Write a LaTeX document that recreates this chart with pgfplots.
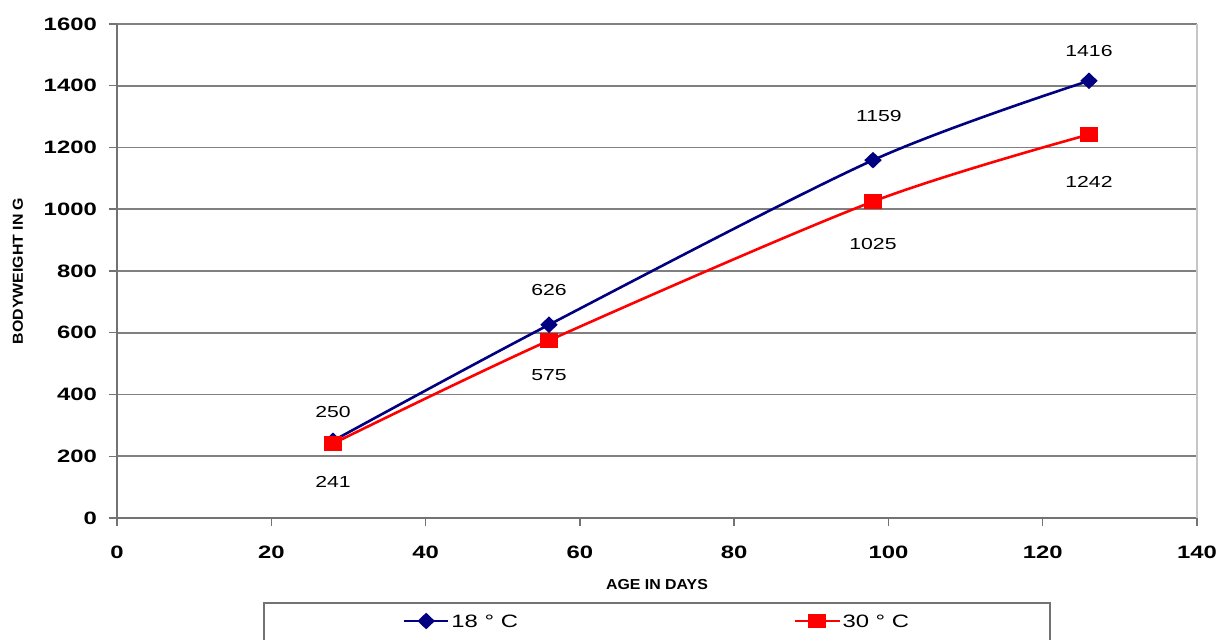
\documentclass[border=0pt]{standalone}
\usepackage{pgfplots}
\pgfplotsset{compat=1.18}
\usepackage{fontspec}
\setmainfont{Liberation Sans}
\newfontfamily\sfont[FakeStretch=1.33]{Liberation Sans}
\newfontfamily\axfont[FakeStretch=1.1]{Liberation Sans}
\definecolor{navy}{RGB}{0,0,128}
\definecolor{myred}{RGB}{255,0,0}
\definecolor{gridgray}{RGB}{128,128,128}
\begin{document}
\begin{tikzpicture}
\begin{axis}[
  scale only axis,
  width=1080bp, height=494bp,
  xmin=0, xmax=140, ymin=0, ymax=1600,
  xtick={0,20,...,140}, ytick={0,200,...,1600},
  axis x line*=bottom, axis y line*=left,
  axis line style={-, draw=gridgray!90!black, line width=2bp},
  tick align=outside, major tick length=8bp,
  tick style={draw=gridgray!90!black, line width=1.5bp},
  ymajorgrids, grid style={draw=gridgray, line width=1.6bp},
  extra x ticks={140}, extra x tick labels={},
  extra x tick style={grid=major, major grid style={draw=gridgray!45, line width=1.2bp}, major tick length=0pt},
  /pgf/number format/assume math mode=true,
  /pgf/number format/1000 sep={},
  ticklabel style={font=\fontsize{18}{20}\sfont\bfseries},
  yticklabel style={anchor=east, inner sep=0pt, xshift=-12bp},
  xticklabel style={anchor=north, inner sep=0pt, yshift=-20bp},
  xlabel={AGE IN DAYS}, ylabel={BODYWEIGHT IN G},
  label style={font=\fontsize{14.5}{16}\axfont\bfseries},
  xlabel style={at={(axis description cs:0.5,-0.1356)}, anchor=center},
  ylabel style={at={(axis description cs:-0.0917,0.5)}, anchor=center},
  legend columns=2,
  legend style={at={(axis description cs:0.5,0)}, anchor=north, yshift=-84bp,
    draw=gridgray!90!black, line width=1.5bp, inner xsep=139bp, inner ysep=10bp,
    font=\fontsize{18}{21}\sfont,
    nodes={text depth=28bp},
    /tikz/every even column/.append style={column sep=274bp}},
  legend image code/.code={\draw[mark repeat=2,mark phase=2,#1] plot coordinates {(0bp,14bp)(22bp,14bp)(44bp,14bp)};},
  clip=false,
]
\addplot[navy, line width=2.6bp, smooth, mark=diamond*, mark size=6.5bp, mark options={xscale=1.4, solid, fill=navy}]
  coordinates {(28,250) (56,626) (98,1159) (126,1416)};
\addlegendentry{18 ° C}
\addplot[myred, line width=2.6bp, smooth, mark=square*, mark size=6bp, mark options={xscale=1.25, solid, fill=myred}]
  coordinates {(28,241) (56,575) (98,1025) (126,1242)};
\addlegendentry{30 ° C}
\begin{scope}[every node/.style={font=\fontsize{16}{18}\sfont, inner sep=0pt}]
\node[yshift=29bp] at (axis cs:28,250) {250};
\node[yshift=35bp] at (axis cs:56,626) {626};
\node[yshift=44bp, xshift=6bp] at (axis cs:98,1159) {1159};
\node[yshift=30bp] at (axis cs:126,1416) {1416};
\node[yshift=-38bp] at (axis cs:28,241) {241};
\node[yshift=-35bp] at (axis cs:56,575) {575};
\node[yshift=-42bp] at (axis cs:98,1025) {1025};
\node[yshift=-47bp] at (axis cs:126,1242) {1242};
\end{scope}
\end{axis}
\pgfresetboundingbox
\path[use as bounding box] (-117bp,-122bp) rectangle (1102bp,518bp);
\end{tikzpicture}
\end{document}
